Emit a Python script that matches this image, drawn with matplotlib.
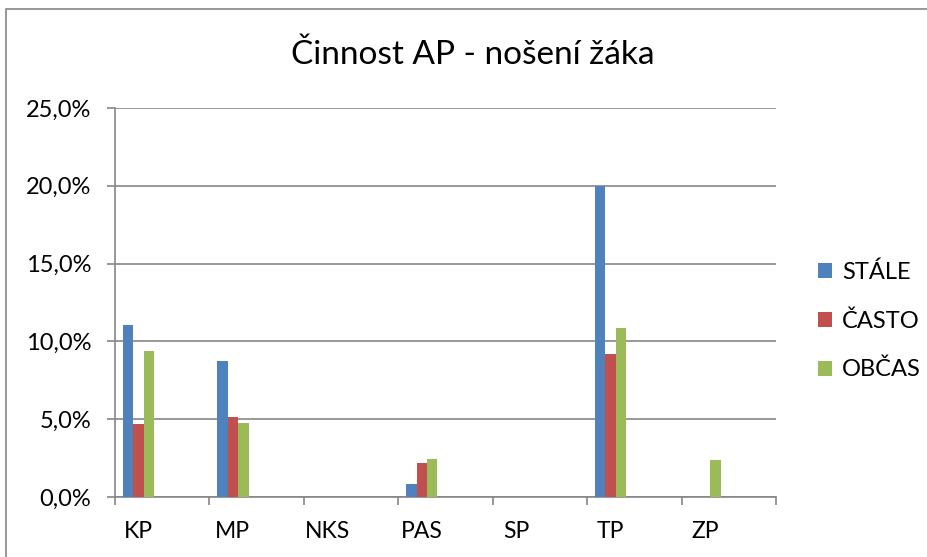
import numpy as np
import matplotlib
matplotlib.use("Agg")
import matplotlib.pyplot as plt
from matplotlib.patches import Rectangle
from matplotlib.ticker import FuncFormatter, MultipleLocator

plt.rcParams['font.family'] = ['Lato', 'DejaVu Sans']

categories = ["KP", "MP", "NKS", "PAS", "SP", "TP", "ZP"]
series_names = ["STÁLE", "ČASTO", "OBČAS"]
stale = [11.05, 8.73, 0.0, 0.84, 0.0, 20.0, 0.0]
casto = [4.70, 5.13, 0.0, 2.19, 0.0, 9.16, 0.0]
obcas = [9.36, 4.74, 0.0, 2.47, 0.0, 10.84, 2.38]
colors = ["#4f81bd", "#c0504d", "#9bbb59"]

fig = plt.figure(figsize=(9.28, 5.57), dpi=100)
# outer chart border (right/bottom run off the picture)
fig.patches.append(Rectangle((6 / 928, -0.05), 1.2, 1 - 9 / 557 + 0.05,
                             transform=fig.transFigure, fill=False,
                             edgecolor="#868686", linewidth=1.2))

ax = fig.add_axes([115 / 928, 1 - 497 / 557, 661 / 928, 389 / 557])

x = np.arange(len(categories))
bar_w = 0.111
start = 0.082
for j, (name, vals) in enumerate(zip(series_names, [stale, casto, obcas])):
    ax.bar(x - 0.5 + start + j * bar_w, vals, width=bar_w, align="edge",
           color=colors[j], label=name, zorder=3)

ax.set_xlim(-0.5, len(categories) - 0.5)
ax.set_ylim(0, 25)
ax.yaxis.set_major_locator(MultipleLocator(5))
ax.yaxis.set_major_formatter(FuncFormatter(lambda v, p: f"{v:.1f}%".replace(".", ",")))
ax.grid(axis="y", color="#868686", linewidth=1.2, zorder=0)

# category boundaries get the tick marks, labels sit under the bar groups
ax.set_xticks(np.arange(len(categories) + 1) - 0.5)
ax.set_xticklabels([])
ax.set_xticks(x - 0.5 + start + 1.5 * bar_w, minor=True)
ax.set_xticklabels(categories, minor=True)
ax.tick_params(axis="x", which="major", length=6, width=1.2, color="#868686", direction="out")
ax.tick_params(axis="x", which="minor", length=0, pad=17, labelsize=16.5)
ax.tick_params(axis="y", length=6, width=1.2, color="#868686", labelsize=17, pad=11)

for side in ["top", "right"]:
    ax.spines[side].set_visible(False)
for side in ["left", "bottom"]:
    ax.spines[side].set_color("#868686")
    ax.spines[side].set_linewidth(1.2)

fig.text(473 / 928, 1 - 55 / 557, "Činnost AP - nošení žáka", ha="center", va="center", fontsize=24)

fig.legend(loc="center left", bbox_to_anchor=(797 / 928, 1 - 321 / 557), frameon=False,
           fontsize=17, handlelength=0.6, handleheight=0.6, labelspacing=1.15, handletextpad=0.4)

fig.savefig("out.png", dpi=100, facecolor="white")
